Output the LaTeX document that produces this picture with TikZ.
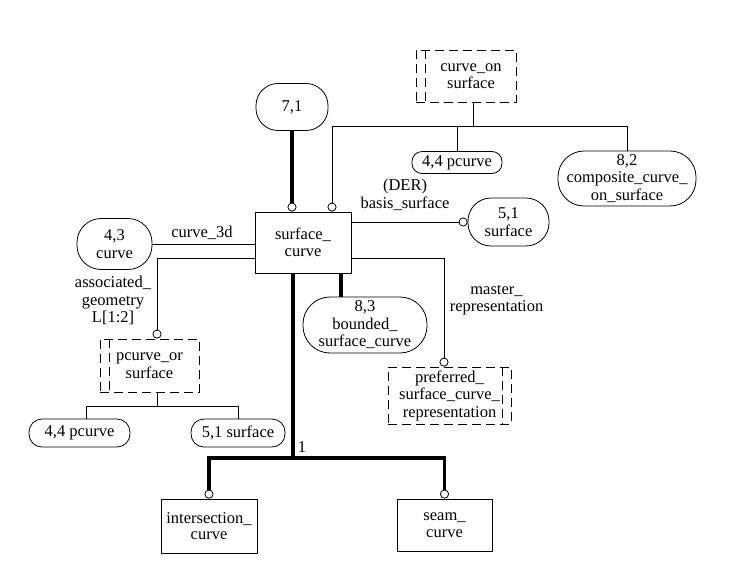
\documentclass[tikz,border=0pt]{standalone}
\usepackage{fontspec}
\setmainfont{Liberation Serif}
\usetikzlibrary{arrows.meta,calc}
\begin{document}
\begin{tikzpicture}[x=1pt,y=-1pt,
  every node/.style={font=\fontsize{16.5}{17.5}\selectfont, align=center, inner sep=0pt},
  conn/.style={line width=0.8pt},
  thickconn/.style={line width=3.4pt},
  circend/.style={-{Circle[open,length=9pt,width=9pt,line width=0.8pt]}},
  entbox/.style={draw, line width=0.8pt, font=\fontsize{16.5}{16.5}\selectfont},
  stad/.style={draw, line width=0.8pt, rounded corners=#1},
  dbox/.style={draw, line width=0.8pt, dash pattern=on 9pt off 5pt},
  dline/.style={line width=0.8pt, dash pattern=on 9pt off 5pt},
  lbl/.style={font=\fontsize{16.5}{17.5}\selectfont}
]
\useasboundingbox (0,0) rectangle (743,587);

% entities
\node[entbox, minimum width=96pt, minimum height=61pt] (sc) at (303,242.5) {surface\_\\curve};
\node[entbox, minimum width=96pt, minimum height=54pt] (ic) at (209,526) {intersection\_\\curve};
\node[entbox, minimum width=95pt, minimum height=52pt] (seam) at (444.5,525) {seam\_\\curve};

% stadiums
\node[stad=22pt, minimum width=72pt, minimum height=47pt] (n71) at (292,107) {7,1};
\node[stad=10pt, minimum width=90pt, minimum height=22pt] (p44a) at (457,162.5) {4,4 pcurve};
\node[stad=26pt, minimum width=138pt, minimum height=55pt] (cs82) at (627,178.5) {8,2\\composite\_curve\_\\on\_surface};
\node[stad=23pt, minimum width=81pt, minimum height=48pt] (s51) at (508.5,222) {5,1\\surface};
\node[stad=24pt, minimum width=75pt, minimum height=51pt] (c43) at (114.5,244) {4,3\\curve};
\node[stad=27pt, minimum width=124pt, minimum height=56pt] (b83) at (365,325) {8,3\\bounded\_\\surface\_curve};
\node[stad=13pt, minimum width=101pt, minimum height=28pt] (p44b) at (79.5,433) {4,4 pcurve};
\node[stad=13pt, minimum width=94pt, minimum height=28pt] (s51b) at (238,433) {5,1 surface};

% dashed select boxes
\node[dbox, minimum width=100pt, minimum height=52pt] (cos) at (466,76) {\hspace*{10pt}curve\_on\\\hspace*{10pt}surface};
\draw[dline] ([xshift=10pt]cos.north west) -- ([xshift=10pt]cos.south west);
\node[dbox, minimum width=99pt, minimum height=53pt] (pcos) at (149.5,365.5) {pcurve\_or\\surface};
\draw[dline] ([xshift=10pt]pcos.north west) -- ([xshift=10pt]pcos.south west);
\node[dbox, minimum width=123pt, minimum height=57pt] (pre) at (449.5,395.5) {preferred\_\\surface\_curve\_\\representation};
\draw[dline] ([xshift=-9pt]pre.north east) -- ([xshift=-9pt]pre.south east);

% labels
\node[lbl] (l3d) at (202,233) {curve\_3d};
\node[lbl] (lder) at (405,195) {(DER)\\basis\_surface};
\node[lbl] (lmas) at (496.5,300) {master\_\\representation};
\node[lbl] (lass) at (113,300.5) {associated\_\\geometry\\L[1:2]};
\node[lbl] (lone) at (302,447) {1};

% coordinates
\coordinate (busT) at (473,126);
\coordinate (busL) at (332,126);
\coordinate (aL) at (157,258);
\coordinate (mR) at (444,258);
\coordinate (hub) at (293,458);
\coordinate (pB) at (157,406);
\coordinate (bT) at (341,273);

% connectors
\draw[conn] (cos.south -| busT) -- (busT);
\draw[conn, circend] (cs82.north) |- (busL) -- (busL |- sc.north);
\draw[conn] (p44a.north) -- (p44a.north |- busL);
\draw[thickconn, circend] (n71.south) -- (n71.south |- sc.north);
\draw[conn, circend] (sc.east |- s51.west) -- (s51.west);
\draw[conn] (c43.east) -- (sc.west |- c43.east);
\draw[conn, circend] (sc.west |- aL) -| (aL |- pcos.north);
\draw[conn, circend] (sc.east |- mR) -| (mR |- pre.north);
\draw[thickconn] (bT) -- (bT |- b83.north);
\draw[thickconn] (sc.south -| hub) -- (hub);
\draw[thickconn, circend] (hub) -| (ic.north);
\draw[thickconn, circend] (hub) -| (seam.north);
\draw[conn] (pcos.south -| pB) -- (pB);
\draw[conn] ([xshift=6.5pt]p44b.north) |- (pB);
\draw[conn] (s51b.north) |- (pB);
\end{tikzpicture}
\end{document}
